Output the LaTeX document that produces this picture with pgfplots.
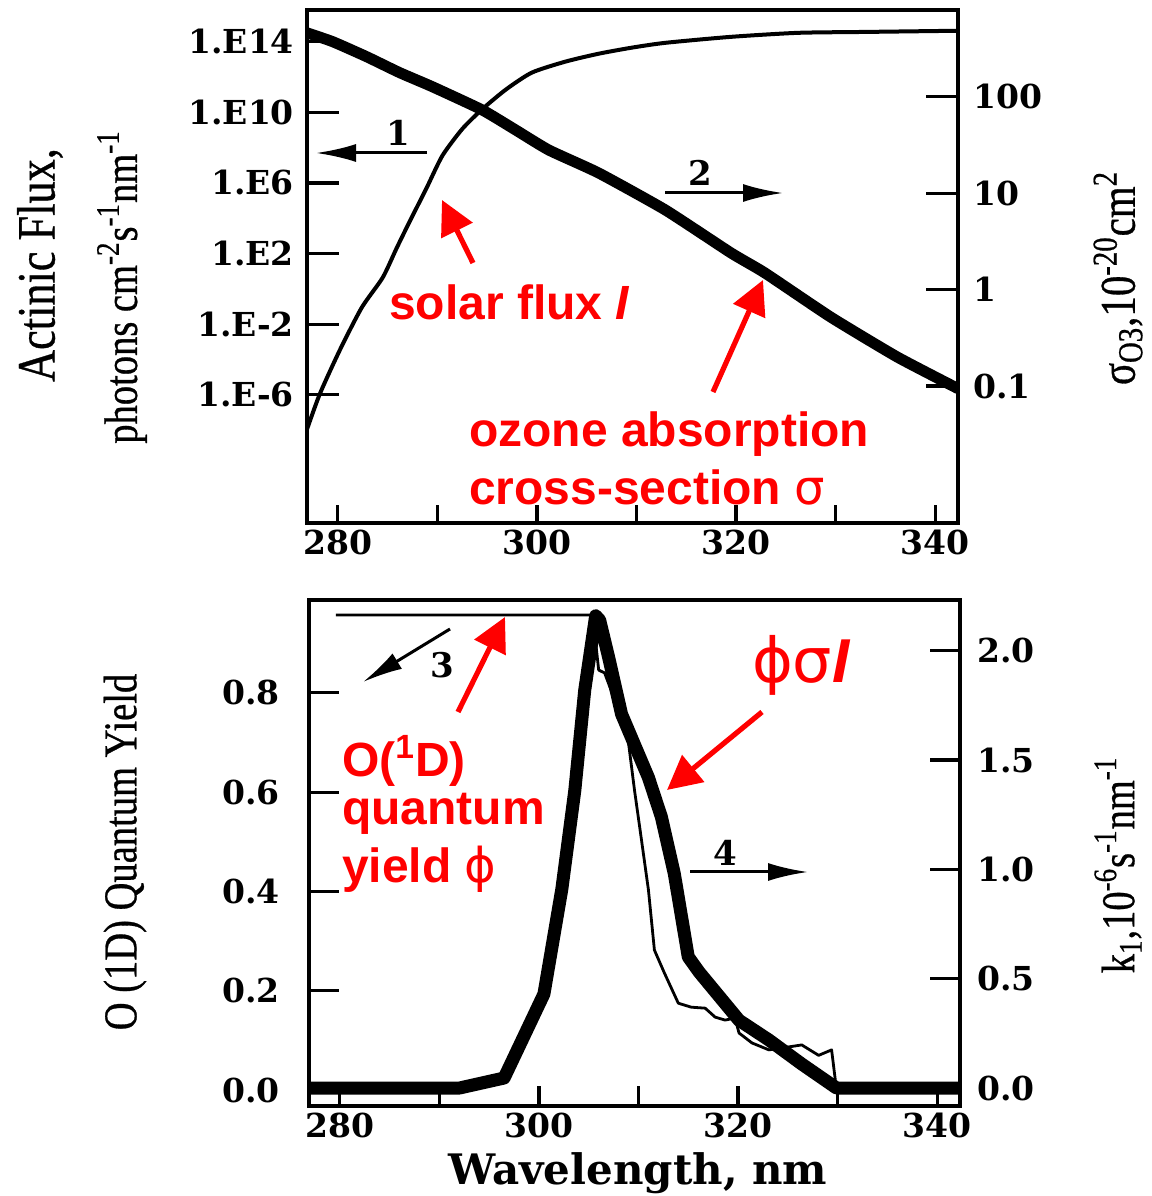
\documentclass[border=0pt]{standalone}
\usepackage{pgfplots}
\pgfplotsset{compat=1.18}
\usepackage{fontspec}
\setmainfont{Liberation Serif}
\newfontfamily\dvs{DejaVu Serif}
\newfontfamily\ars{Liberation Sans}
\newfontfamily\djs{DejaVu Sans}
\newfontfamily\cond[FakeStretch=0.82,FakeBold=0.6]{Liberation Serif}
\usetikzlibrary{arrows.meta}
\definecolor{annred}{RGB}{255,0,0}

\pgfplotsset{
  panel/.style={scale only axis, width=325.5pt, xmin=276.9, xmax=342.3,
    anchor=south west, axis line style={line width=2pt},
    tick style={line width=1.6pt, black}, tick align=inside,
    ticklabel style={font=\dvs\bfseries\fontsize{16.5}{19}\selectfont},
    /pgf/number format/assume math mode=true},
  toppanel/.style={panel, height=256.5pt, at={(153.5pt,336.5pt)}},
  botpanel/.style={panel, height=253pt, at={(154.5pt,45pt)}},
}

\begin{document}
\begin{tikzpicture}
\path[use as bounding box] (0,0) rectangle (576pt,598pt);

% ---------------- top panel ----------------
\begin{axis}[toppanel, ymin=0, ymax=1, ytick=\empty,
  xtick={280,290,300,310,320,330,340}, xticklabels={280,,300,,320,,340},
  xtick pos=bottom, major tick length=9pt]
\end{axis}

\begin{axis}[toppanel, ymode=log, ymin=5.4e-14, ymax=6.3e15, xtick=\empty,
  ytick={1e-6,1e-2,1e2,1e6,1e10,1e14},
  yticklabels={1.E-6,1.E-2,1.E2,1.E6,1.E10,1.E14},
  ytick pos=left, major tick length=16pt, minor tick length=0pt,
  yticklabel style={xshift=-3pt}]
\addplot[line width=2pt, line join=round, smooth, tension=0.4] coordinates {
(276.9,1.1e-8) (278.2,1.15e-6) (280.2,3.4e-4) (282.4,8.7e-2) (284.5,4.3)
(285.9,2.0e2) (287.2,6.3e3) (288.9,5.0e5) (290.5,3.5e7) (292.5,1.15e9)
(294.5,1.5e10) (296.9,2.0e11) (299.5,1.8e12) (302.9,7.6e12) (306.2,2.1e13)
(309.5,4.6e13) (312.9,8.7e13) (319.5,1.9e14) (326.2,3.2e14) (332.9,3.6e14)
(342.3,4.2e14)};
\end{axis}

\begin{axis}[toppanel, ymode=log, ymin=0.0038, ymax=794, xtick=\empty,
  ytick={0.1,1,10,100}, yticklabels={0.1,1,10,100},
  ytick pos=right, yticklabel pos=right, major tick length=16pt, minor tick length=0pt,
  yticklabel style={xshift=4pt}]
\addplot[line width=5.5pt, line join=round, smooth, tension=0.3] coordinates {
(276.9,460) (279.5,372) (282.9,260) (286.2,178) (289.5,127) (294.5,73)
(297.9,45) (301.2,28) (306.2,16.2) (312.9,6.7) (319.5,2.4) (322.9,1.49)
(329.5,0.52) (336.2,0.20) (342.3,0.094)};
\end{axis}

% ---------------- bottom panel ----------------
\begin{axis}[botpanel, ymin=0, ymax=1, ytick=\empty,
  xtick={280,290,300,310,320,330,340}, xticklabels={280,,300,,320,,340},
  xtick pos=bottom, major tick length=10pt]
\end{axis}

\begin{axis}[botpanel, ymin=-0.032, ymax=0.987, xtick=\empty,
  ytick={0,0.2,0.4,0.6,0.8}, yticklabels={0.0,0.2,0.4,0.6,0.8},
  ytick pos=left, major tick length=15pt, yticklabel style={xshift=-11pt}]
\addplot[line width=1.4pt, line join=round] coordinates {
(279.6,0.957) (305.4,0.957) (306.0,0.846) (306.6,0.840) (308.0,0.765)
(309.0,0.699) (309.6,0.604) (310.3,0.504) (311.0,0.403) (311.6,0.282)
(312.6,0.236) (314.0,0.175) (315.3,0.167) (316.7,0.165) (317.7,0.147)
(318.7,0.141) (319.7,0.145) (320.1,0.115) (321.4,0.095) (323.1,0.081)
(325.1,0.087) (326.4,0.091) (328.1,0.070) (329.4,0.081) (329.9,0.0)
(342.3,0.0)};
\end{axis}

\begin{axis}[botpanel, ymin=-0.082, ymax=2.232, xtick=\empty,
  ytick={0,0.5,1,1.5,2}, yticklabels={0.0,0.5,1.0,1.5,2.0},
  ytick pos=right, yticklabel pos=right, major tick length=15pt,
  yticklabel style={xshift=5pt}]
\addplot[line width=6.5pt, line join=round] coordinates {
(276.9,0) (292.0,0) (296.5,0.046) (300.5,0.43) (302.3,0.91) (303.6,1.36)
(304.6,1.82) (305.7,2.16) (306.1,2.14) (307.0,1.97) (308.3,1.71)
(311.0,1.42) (312.3,1.24) (313.6,0.98) (315.0,0.60) (316.1,0.53)
(318.1,0.42) (320.1,0.31) (323.1,0.22) (326.4,0.11) (329.9,0.0) (342.3,0)};
\end{axis}

% ---------------- labels and annotations (image pixel coordinates) ----------------
\begin{scope}[shift={(0pt,598pt)}, x=0.5pt, y=-0.5pt]
\tikzset{lab/.style={rotate=90, font=\cond\fontsize{23.5}{27}\selectfont},
  num/.style={font=\dvs\bfseries\fontsize{17}{19}\selectfont},
  red/.style={anchor=base west, text=annred, font=\ars\bfseries\fontsize{24}{28}\selectfont},
  blk/.style={line width=1.5pt, -{Latex[length=20pt,width=9pt]}},
  rarr/.style={annred, line width=2.6pt, -{Triangle[length=17pt,width=17pt]}}}
\node[lab, font=\cond\fontsize{27}{30}\selectfont] at (40,265) {Actinic Flux,};
\node[lab] at (122,287) {photons cm\textsuperscript{-2}s\textsuperscript{-1}nm\textsuperscript{-1}};
\node[lab, font=\cond\fontsize{25}{28}\selectfont] at (1118,278) {σ\textsubscript{O3},10\textsuperscript{-20}cm\textsuperscript{2}};
\node[lab] at (125,852) {O (1D) Quantum Yield};
\node[lab] at (1118,865) {k\textsubscript{1},10\textsuperscript{-6}s\textsuperscript{-1}nm\textsuperscript{-1}};
\node[font=\dvs\bfseries\fontsize{21}{24}\selectfont] at (638,1173) {Wavelength, nm};

\draw[blk] (427,153) -- (316,153);
\node[num] at (398,133) {1};
\draw[blk] (665,193) -- (783,193);
\node[num] at (700,173) {2};
\draw[blk] (450,629) -- (363,682);
\node[num] at (442,665) {3};
\draw[blk] (690,872) -- (808,872);
\node[num] at (725,853) {4};

\node[red] at (382,320) {solar flux \textit{I}};
\node[red] at (462,447) {ozone absorption};
\node[red] at (462,505) {cross-section {\djs\mdseries σ}};
\node[red] at (335,777) {O(\textsuperscript{1}D)};
\node[red] at (335,825) {quantum};
\node[red] at (335,883) {yield {\djs\mdseries ϕ}};
\node[red, font=\ars\bfseries\fontsize{31}{34}\selectfont] at (745,683) {{\djs\mdseries ϕσ}\textit{I}};

\draw[rarr] (473,263) -- (442,200);
\draw[rarr] (713,392) -- (763,280);
\draw[rarr] (458,712) -- (505,617);
\draw[rarr] (762,712) -- (667,790);
\end{scope}
\end{tikzpicture}
\end{document}
